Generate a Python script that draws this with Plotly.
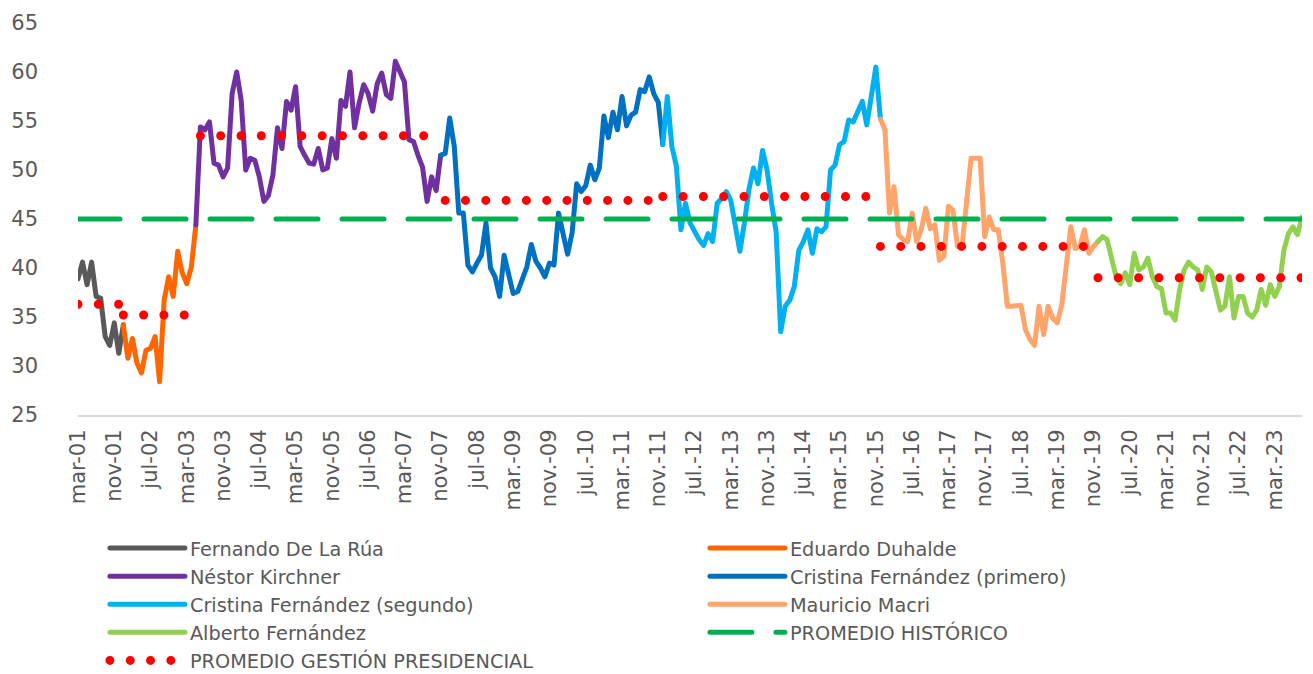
import plotly.graph_objects as go

# ---------------- data ----------------
MONTH_ABBR = ["ene", "feb", "mar", "abr", "may", "jun", "jul", "ago", "sep", "oct", "nov", "dic"]
FIRST_YEAR, FIRST_MONTH, N_MONTHS = 2001, 3, 271  # mar-2001 .. sep-2023


def month_label(k):
    m = (FIRST_MONTH - 1 + k) % 12
    y = FIRST_YEAR + (FIRST_MONTH - 1 + k) // 12
    return f"{MONTH_ABBR[m]}{'.' if y >= 2009 else ''}-{y % 100:02d}"


categories = [month_label(k) for k in range(N_MONTHS)]

tick_labels = ["mar-01", "nov-01", "jul-02", "mar-03", "nov-03", "jul-04", "mar-05", "nov-05",
               "jul-06", "mar-07", "nov-07", "jul-08", "mar.-09", "nov.-09", "jul.-10", "mar.-11",
               "nov.-11", "jul.-12", "mar.-13", "nov.-13", "jul.-14", "mar.-15", "nov.-15", "jul.-16",
               "mar.-17", "nov.-17", "jul.-18", "mar.-19", "nov.-19", "jul.-20", "mar.-21", "nov.-21",
               "jul.-22", "mar.-23"]

de_la_rua = [38.9, 40.6, 38.3, 40.6, 37.1, 36.9, 33.0, 32.1, 34.4, 31.3, 34.2]
duhalde = [34.2, 30.8, 32.8, 30.3, 29.3, 31.6, 31.8, 33.0, 28.4, 36.7, 39.1, 37.1, 41.7, 39.5,
           38.4, 40.1, 44.4]
kirchner = [44.4, 54.4, 54.1, 54.9, 50.7, 50.5, 49.3, 50.2, 57.8, 60.0, 57.1, 50.0, 51.2, 51.0,
            49.3, 46.8, 47.4, 49.5, 54.3, 52.2, 57.0, 56.1, 58.5, 52.4, 51.5, 50.7, 50.6, 52.2,
            50.0, 50.2, 53.2, 51.2, 57.1, 56.5, 60.0, 54.3, 56.8, 58.7, 57.8, 56.0, 58.8, 59.9,
            57.7, 57.3, 61.1, 59.9, 59.0, 53.1, 52.9, 51.5, 50.3, 46.8, 49.3, 47.9, 51.5]
cfk_1 = [51.5, 51.7, 55.3, 52.4, 45.6, 45.6, 40.3, 39.6, 40.5, 41.3, 44.6, 40.0, 39.1, 37.1,
         41.3, 39.3, 37.4, 37.6, 38.9, 40.1, 42.4, 40.7, 40.0, 39.1, 40.5, 40.3, 45.6, 43.3,
         41.4, 43.6, 48.6, 47.8, 48.4, 50.5, 49.0, 50.2, 55.5, 53.3, 55.9, 54.1, 57.5, 54.5,
         55.6, 55.9, 58.2, 58.0, 59.5, 57.8, 56.9, 52.6]
cfk_2 = [52.6, 57.5, 52.4, 50.4, 43.9, 46.6, 44.6, 43.7, 42.9, 42.3, 43.5, 42.7, 46.6, 47.1,
         47.8, 46.9, 43.9, 41.7, 44.6, 48.0, 50.2, 48.6, 52.0, 50.0, 46.6, 43.7, 33.5, 36.1,
         36.7, 38.1, 41.8, 42.7, 43.9, 41.5, 44.0, 43.7, 44.2, 50.0, 50.5, 52.6, 52.9, 55.1,
         54.9, 56.1, 57.0, 54.6, 57.7, 60.5, 55.2]
macri = [55.2, 54.1, 45.6, 48.3, 43.4, 42.9, 42.7, 45.6, 42.7, 43.9, 46.1, 44.0, 44.4, 40.8,
         41.2, 46.3, 45.9, 42.2, 42.2, 47.3, 51.2, 51.2, 51.2, 43.2, 45.2, 43.9, 43.9, 40.5,
         36.1, 36.1, 36.2, 36.2, 33.7, 32.7, 32.1, 36.1, 33.2, 36.1, 34.9, 34.4, 36.2, 40.5,
         44.2, 42.0, 42.2, 43.9, 41.5, 42.2, 42.7]
alberto = [42.7, 43.2, 42.9, 41.2, 39.1, 38.4, 39.5, 38.3, 41.5, 39.8, 40.1, 41.0, 39.1, 38.1,
           37.9, 35.4, 35.4, 34.7, 37.8, 39.8, 40.6, 40.1, 39.8, 37.8, 40.1, 39.6, 37.8, 35.7,
           36.1, 39.1, 34.9, 37.1, 37.1, 35.4, 35.0, 35.7, 37.8, 36.2, 38.3, 37.1, 38.1, 41.8,
           43.5, 44.2, 43.4, 45.2]

series_names = ["Fernando De La Rúa", "Eduardo Duhalde", "Néstor Kirchner",
                "Cristina Fernández (primero)", "Cristina Fernández (segundo)",
                "Mauricio Macri", "Alberto Fernández"]
series_values = [de_la_rua, duhalde, kirchner, cfk_1, cfk_2, macri, alberto]
series_start = [0, 10, 26, 80, 129, 177, 225]          # index of first month of each series
series_colors = ["#595959", "#FF6600", "#7030A0", "#0070C0", "#00B0F0", "#FFA46B", "#92D050"]

historic_average = 45.0
# average of each presidency and the months it covers (first, last index)
presidency_avg = [36.3, 35.2, 53.5, 46.9, 47.3, 42.2, 39.0]
presidency_span = [(0, 9), (10, 26), (27, 80), (81, 128), (129, 176), (177, 224), (225, 270)]

# ---------------- figure ----------------
FONT = "DejaVu Sans"
GREY = "#595959"

fig = go.Figure()

for name, vals, start, col in zip(series_names, series_values, series_start, series_colors):
    fig.add_trace(go.Scatter(
        x=categories[start:start + len(vals)], y=vals, name=name, mode="lines",
        line=dict(color=col, width=5), hoverinfo="x+y+name"))

fig.add_trace(go.Scatter(
    x=categories, y=[historic_average] * len(categories), name="PROMEDIO HISTÓRICO",
    mode="lines", line=dict(color="#00B050", width=5, dash="42px,24px")))

avg_x, avg_y = [], []
for val, (a, b) in zip(presidency_avg, presidency_span):
    avg_x += categories[a:b + 1] + [categories[b]]
    avg_y += [val] * (b - a + 1) + [None]
fig.add_trace(go.Scatter(
    x=avg_x, y=avg_y, name="PROMEDIO GESTIÓN PRESIDENCIAL", mode="lines",
    connectgaps=False, line=dict(color="#FF0000", width=9, dash="0px,20.3px")))

fig.update_layout(
    width=1313, height=674,
    margin=dict(l=69, r=11, t=23, b=259),
    paper_bgcolor="white", plot_bgcolor="white",
    font=dict(family=FONT, size=20, color=GREY),
    showlegend=True,
    legend=dict(orientation="h", xref="paper", x=0.022, xanchor="left",
                yref="container", y=1 - 529 / 674, yanchor="top",
                entrywidth=510, entrywidthmode="pixels", itemwidth=75,
                font=dict(family=FONT, size=19.3, color=GREY),
                tracegroupgap=0, bgcolor="rgba(0,0,0,0)"),
)

fig.update_xaxes(type="category", categoryorder="array", categoryarray=categories,
                 range=[0, N_MONTHS - 1], tickmode="array", tickvals=tick_labels,
                 ticktext=tick_labels, tickangle=-90, showgrid=False, zeroline=False,
                 showline=True, linecolor="#D9D9D9", linewidth=2, ticks="",
                 ticklabelstandoff=4,
                 tickfont=dict(family=FONT, size=21, color=GREY))
fig.update_yaxes(range=[25, 65], dtick=5, tick0=25, showgrid=False, zeroline=False,
                 showline=False, ticks="", ticklabelstandoff=39,
                 tickfont=dict(family=FONT, size=21, color=GREY))

post = """
var st = document.createElement('style');
st.textContent = 'html,body{margin:0;padding:0;overflow:hidden;}' +
                 '.js-line{stroke-linecap:round;stroke-linejoin:round;}';
document.head.appendChild(st);
"""
fig.write_html("out.html", post_script=post, config={"displayModeBar": False})
